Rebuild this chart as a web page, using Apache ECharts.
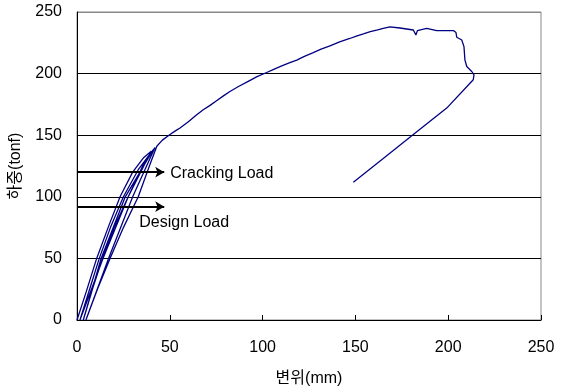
<!DOCTYPE html>
<html>
<head>
<meta charset="utf-8">
<script src="https://cdn.jsdelivr.net/npm/echarts@6/dist/echarts.min.js"></script>
<style>
  html, body { margin: 0; padding: 0; background: #fff; }
  #chart { width: 562px; height: 392px; }
</style>
</head>
<body>
<div id="chart"></div>
<script>
// 변위 (mm) / 하중 (tonf) - 재하 이력
const disp = [
    0, 5, 10.6, 17, 23.2, 30, 36, 40,
    27.6, 14, 1.6,
    7, 12, 18, 25, 33, 41,
    26, 13, 3.4,
    8.5, 13.8, 20, 27.6, 36, 42,
    30, 17, 4.8,
    11, 17.8, 25, 33, 39, 43, 46, 50.1, 53, 55.5, 60, 64, 68, 71.5, 75, 78.7, 82.4, 87, 92, 97, 102.2, 106, 110, 114, 118.4, 122.5, 127, 131.5, 136.3, 141.5, 147, 150.5, 154.3, 158, 162, 165, 168.6,
    174, 181.2, 182.6, 183.4, 188.4, 193.8, 202.8, 204.2, 204.6, 207.3, 208.5, 209, 210, 212.7, 213.9, 213.5,
    199.2, 181.2, 165, 148.9
];
const load = [
    0, 23, 50, 76, 100, 120, 132, 137,
    100, 50, 0,
    26, 50, 75, 100, 122, 138,
    100, 50, 0,
    26, 50, 75, 100, 127, 140,
    100, 50, 0,
    25, 50, 75, 100, 125, 141, 146, 150.5, 153.5, 155.9, 161, 166, 170.7, 174, 177.8, 181.7, 185.5, 189.5, 193.5, 197.5, 200.9, 203.5, 206, 208.5, 211, 214, 216.8, 219.8, 222.5, 225.8, 228.5, 230.4, 232.2, 234, 235.5, 236.8, 238,
    237, 235.4, 231.4, 234.9, 236.8, 234.9, 234.9, 233.3, 229.5, 227.3, 221.9, 211.2, 205.8, 201.7, 199, 195,
    172, 150.5, 131, 111.9
];
const xTicks = [0, 50, 100, 150, 200, 250];
const yTicks = [0, 50, 100, 150, 200, 250];
// 표시 하중 (tonf)
const markNames = ['Cracking Load', 'Design Load'];
const markLoads = [120, 92];
const markEnd = [47, 47];

const chart = echarts.init(document.getElementById('chart'));
const font = '"Liberation Sans", Arial, "Noto Sans CJK KR", sans-serif';

const points = disp.map((d, i) => [d, load[i]]);

const arrows = markNames.map((name, i) => [
    { coord: [0, markLoads[i]] },
    {
        coord: [markEnd[i], markLoads[i]],
        label: i === 0
            ? { show: true, position: 'end', formatter: name, distance: 6, offset: [0, 1] }
            : { show: true, position: 'end', formatter: name, distance: 0, offset: [-25, 16] }
    }
]);

chart.setOption({
    backgroundColor: '#fff',
    animation: false,
    textStyle: { fontFamily: font },
    grid: {
        left: 77,
        right: 21,
        top: 12,
        bottom: 71,
        show: true,
        borderColor: '#888',
        borderWidth: 1
    },
    xAxis: {
        type: 'value',
        min: xTicks[0],
        max: xTicks[xTicks.length - 1],
        interval: 50,
        name: '변위(mm)',
        nameLocation: 'middle',
        nameGap: 51,
        nameTextStyle: { fontSize: 16, color: '#000', fontFamily: font },
        axisLine: { show: true, lineStyle: { color: '#000', width: 1 } },
        axisTick: { show: true, inside: true, length: 5, lineStyle: { color: '#000' } },
        axisLabel: { fontSize: 16, color: '#000', margin: 20, fontFamily: font },
        splitLine: { show: false }
    },
    yAxis: {
        type: 'value',
        min: yTicks[0],
        max: yTicks[yTicks.length - 1],
        interval: 50,
        name: '하중(tonf)',
        nameLocation: 'middle',
        nameGap: 53,
        nameTextStyle: { fontSize: 16, color: '#000', fontFamily: font },
        axisLine: { show: true, lineStyle: { color: '#000', width: 1 } },
        axisTick: { show: false },
        axisLabel: { fontSize: 16, color: '#000', margin: 15, fontFamily: font },
        splitLine: {
            show: true,
            lineStyle: { color: ['#000', '#000', '#000', '#000', '#000', '#888'], width: 1 }
        }
    },
    series: [{
        type: 'line',
        data: points,
        showSymbol: false,
        smooth: false,
        lineStyle: { color: '#000080', width: 1.3 },
        markLine: {
            silent: true,
            symbol: ['none', 'arrow'],
            symbolSize: [8, 9],
            lineStyle: { color: '#000', width: 2, type: 'solid' },
            label: { fontSize: 16, color: '#000', fontFamily: font },
            data: arrows
        }
    }]
});
</script>
</body>
</html>
